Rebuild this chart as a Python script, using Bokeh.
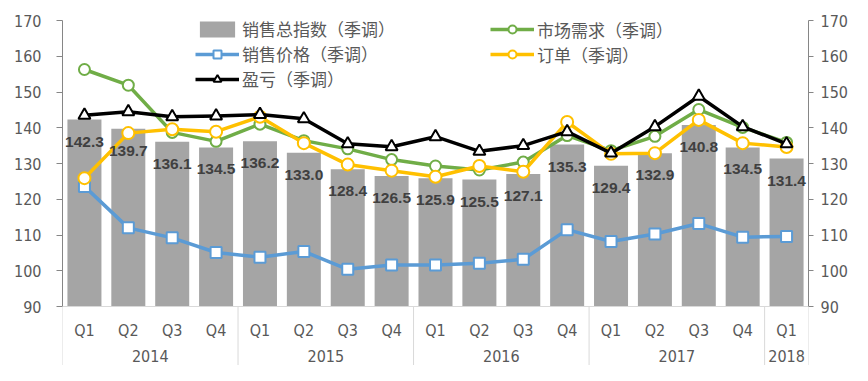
from bokeh.plotting import figure
from bokeh.models import Range1d, LinearAxis, FixedTicker, Legend, LegendItem, Span
from bokeh.core.properties import value
from bokeh.embed import file_html
from bokeh.resources import INLINE

# ---------------- data ----------------
quarters = ["Q1", "Q2", "Q3", "Q4", "Q1", "Q2", "Q3", "Q4", "Q1", "Q2", "Q3", "Q4",
            "Q1", "Q2", "Q3", "Q4", "Q1"]
years = ["2014", "2015", "2016", "2017", "2018"]
year_sizes = [4, 4, 4, 4, 1]

sales_index = [142.3, 139.7, 136.1, 134.5, 136.2, 133.0, 128.4, 126.5, 125.9,
               125.5, 127.1, 135.3, 129.4, 132.9, 140.8, 134.5, 131.4]
market_demand = [156.3, 151.9, 138.7, 136.2, 141.0, 136.4, 134.1, 131.1, 129.3,
                 128.2, 130.4, 137.8, 133.6, 137.6, 145.1, 140.1, 135.9]
sales_price = [123.6, 112.0, 109.2, 105.1, 103.8, 105.4, 100.4, 101.6, 101.6,
               102.1, 103.2, 111.5, 108.2, 110.3, 113.2, 109.4, 109.6]
orders = [125.9, 138.5, 139.6, 138.9, 143.1, 135.7, 129.7, 128.0, 126.3,
          129.3, 127.7, 141.6, 132.7, 132.9, 142.2, 135.7, 134.6]
profit = [143.5, 144.5, 143.1, 143.3, 143.7, 142.5, 135.5, 134.7, 137.5,
          133.4, 135.0, 138.9, 132.9, 140.3, 148.8, 140.3, 135.5]
y_ticks = [90, 100, 110, 120, 130, 140, 150, 160, 170]

# ---------------- layout helpers ----------------
n = len(quarters)
xs = list(range(n))
y_min_axis, y_max_axis = y_ticks[0], y_ticks[-1]
y_bottom = 73.5           # extra space below the axis for the two-level category labels
y_top = 171.68            # small headroom so the legend sits inside the frame
q_label_y = 83.4
year_label_y = 76.1

sep_x = [-0.5]
acc = 0
year_x = []
for s in year_sizes:
    year_x.append(acc + (s - 1) / 2)
    acc += s
    sep_x.append(acc - 0.5)

AX_FONT = "DejaVu Sans Condensed"
AX_COLOR = "#595959"

p = figure(width=852, height=365, output_backend="svg", toolbar_location=None,
           x_range=Range1d(-0.5, n - 0.5), y_range=Range1d(y_bottom, y_top),
           min_border_left=62, min_border_right=44, min_border_top=14, min_border_bottom=0)
p.outline_line_color = None
p.xgrid.visible = False
p.ygrid.visible = False
p.xaxis.visible = False

# left axis
ya = p.yaxis[0]
ya.ticker = FixedTicker(ticks=y_ticks)
ya.bounds = (y_min_axis, y_max_axis)
ya.axis_line_color = "#868686"
ya.major_tick_line_color = "#868686"
ya.major_tick_out = 6
ya.major_tick_in = 0
ya.minor_tick_line_color = None
ya.major_label_standoff = 15
ya.major_label_text_font = AX_FONT
ya.major_label_text_font_size = "16px"
ya.major_label_text_color = AX_COLOR

# right axis
ra = LinearAxis(ticker=FixedTicker(ticks=y_ticks), bounds=(y_min_axis, y_max_axis))
ra.axis_line_color = "#868686"
ra.major_tick_line_color = "#868686"
ra.major_tick_out = 5
ra.major_tick_in = 0
ra.minor_tick_line_color = None
ra.major_label_standoff = 7
ra.major_label_text_font = AX_FONT
ra.major_label_text_font_size = "16px"
ra.major_label_text_color = AX_COLOR
p.add_layout(ra, "right")

# baseline + category separators
p.add_layout(Span(location=y_min_axis, dimension="width", line_color="#d9d9d9", line_width=1))
p.segment(x0=sep_x, y0=[y_min_axis] * len(sep_x), x1=sep_x, y1=[y_bottom] * len(sep_x),
          line_color="#d9d9d9", line_width=1)
p.text(x=xs, y=[q_label_y] * n, text=quarters, text_align="center", text_baseline="middle",
       text_font=value(AX_FONT), text_font_size="16px", text_color=AX_COLOR)
p.text(x=year_x, y=[year_label_y] * len(years), text=years, text_align="center",
       text_baseline="middle", text_font=value(AX_FONT), text_font_size="16px",
       text_color=AX_COLOR)

# bars
bars = p.vbar(x=xs, top=sales_index, bottom=y_min_axis, width=0.775,
              fill_color="#A5A5A5", line_color=None)

# lines
def series(vals, color, marker, size, lw):
    ln = p.line(xs, vals, line_color=color, line_width=lw, line_join="round")
    mk = p.scatter(xs, vals, marker=marker, size=size, fill_color="white",
                   line_color=color, line_width=2)
    return ln, mk

g_ln, g_mk = series(market_demand, "#70AD47", "circle", 11, 3.5)
b_ln, b_mk = series(sales_price, "#5B9BD5", "square", 11, 3.5)
y_ln, y_mk = series(orders, "#FFC000", "circle", 12, 3.5)
k_ln, k_mk = series(profit, "#000000", "triangle", 12, 3.5)

# data labels
p.text(x=xs, y=sales_index, text=[f"{v:.1f}" for v in sales_index], text_align="center",
       text_baseline="middle", y_offset=22, text_font=value("Liberation Sans"),
       text_font_style="bold", text_font_size="15.5px", text_color="#404040")

# legends
def make_legend(items, loc):
    lg = Legend(items=items, location=loc, orientation="vertical")
    lg.border_line_color = None
    lg.background_fill_alpha = 0
    lg.padding = 0
    lg.margin = 0
    lg.spacing = 0
    lg.glyph_width = 44
    lg.glyph_height = 20
    lg.label_height = 20
    lg.label_standoff = 3
    lg.label_text_font = "Noto Sans CJK SC"
    lg.label_text_font_size = "17px"
    lg.label_text_color = AX_COLOR
    p.add_layout(lg)
    return lg

make_legend([LegendItem(label="销售总指数（季调）", renderers=[bars]),
             LegendItem(label="销售价格（季调）", renderers=[b_ln, b_mk]),
             LegendItem(label="盈亏（季调）", renderers=[k_ln, k_mk])], (133, 274))
make_legend([LegendItem(label="市场需求（季调）", renderers=[g_ln, g_mk]),
             LegendItem(label="订单（季调）", renderers=[y_ln, y_mk])], (428, 298.5))

open("out.html", "w").write(file_html(p, INLINE))
